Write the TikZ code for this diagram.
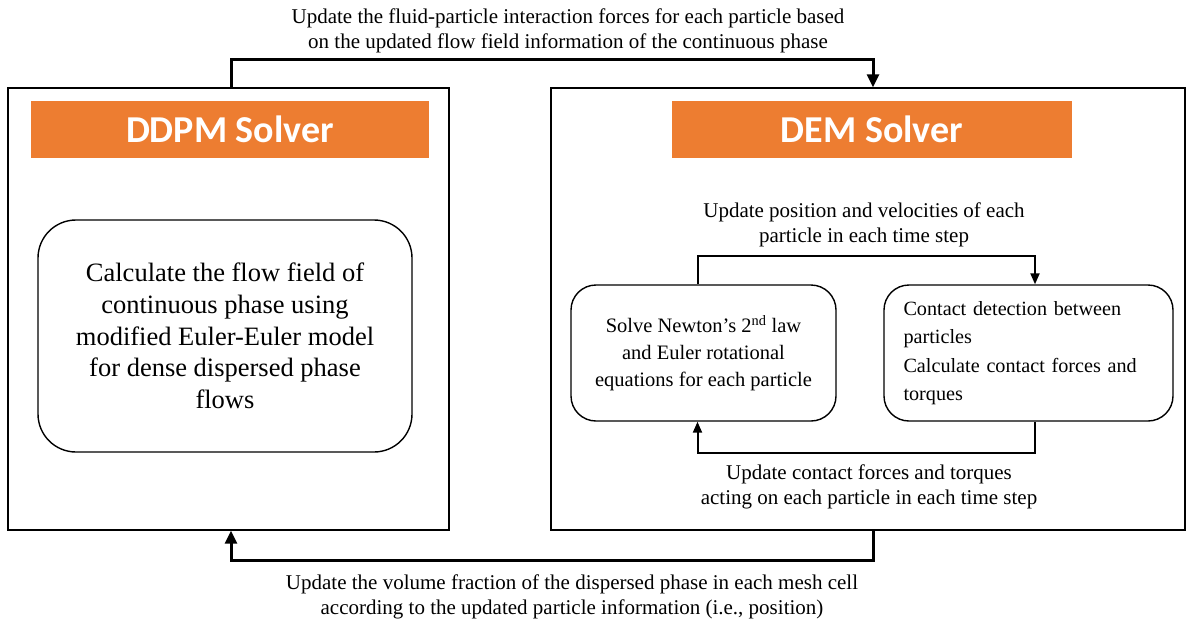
\documentclass[tikz,border=0pt]{standalone}
\usepackage{fontspec}
\setmainfont{Liberation Serif}
\newfontfamily\headfont{Carlito}
\usetikzlibrary{arrows.meta}

\definecolor{solverorange}{HTML}{ED7D31}

\tikzset{
  outerbox/.style={draw, line width=1.4pt, inner sep=0pt},
  header/.style={fill=solverorange, text=white, inner sep=0pt,
    font=\headfont\bfseries\fontsize{38}{40}\selectfont},
  roundbox/.style={draw, line width=1.4pt, align=center},
  label/.style={align=center, font=\fontsize{21}{25}\selectfont},
  bigarrow/.style={line width=3pt, -{Triangle[length=13pt,width=12pt]}},
  smallarrow/.style={line width=2pt, -{Triangle[length=11pt,width=9pt]}}
}

\begin{document}
\begin{tikzpicture}[x=1pt,y=-1pt]
    \useasboundingbox (0,0) rectangle (1187,622);

    % solver frames
    \node[outerbox, minimum width=441pt, minimum height=442pt] (ddpmbox) at (228.5,309) {};
    \node[outerbox, minimum width=634pt, minimum height=442pt] (dembox) at (868,309) {};

    \node[header, minimum width=398pt, minimum height=57pt] (ddpmhead) at (230,129.5) {DDPM Solver};
    \node[header, minimum width=400pt, minimum height=57pt] (demhead) at (872,129.5) {DEM Solver};

    % DDPM side
    \node[roundbox, rounded corners=38pt, minimum width=374pt, minimum height=232pt,
      font=\fontsize{26.5}{31.7}\selectfont] (flow) at (225,336)
      {Calculate the flow field of\\ continuous phase using\\ modified Euler-Euler model\\
       for dense dispersed phase\\ flows};

    % DEM side
    \node[roundbox, rounded corners=25pt, minimum width=265pt, minimum height=136pt,
      font=\fontsize{20.5}{27}\selectfont] (solve) at (703.5,353)
      {Solve Newton’s 2\textsuperscript{nd} law\\ and Euler rotational\\ equations for each particle};
    \node[roundbox, rounded corners=25pt, minimum width=289pt, minimum height=136pt,
      text width=250pt, align=left, font=\fontsize{20.2}{28.3}\selectfont] (contact) at (1028.5,353)
      {Contact detection between\\ particles\\ Calculate contact forces and\\ torques};

    \draw[smallarrow] ([xshift=-6pt]solve.north) -- ++(0,-28) -| ([xshift=6.5pt]contact.north);
    \draw[smallarrow] ([xshift=6.5pt]contact.south) -- ++(0,31) -| ([xshift=-6pt]solve.south);

    \node[label] (posvel) at (864,224.5)
      {Update position and velocities of each\\ particle in each time step};
    \node[label] (contactupd) at (869,486.5)
      {Update contact forces and torques\\ acting on each particle in each time step};

    % coupling between the solvers
    \draw[bigarrow] ([xshift=2.5pt]ddpmbox.north) -- ++(0,-28) -| ([xshift=5pt]dembox.north);
    \draw[bigarrow] ([xshift=5pt]dembox.south) -- ++(0,30) -| ([xshift=2.5pt]ddpmbox.south);

    \node[label] (forceupd) at (568,31)
      {Update the fluid-particle interaction forces for each particle based\\
       on the updated flow field information of the continuous phase};
    \node[label] (volupd) at (572,597)
      {Update the volume fraction of the dispersed phase in each mesh cell\\
       according to the updated particle information (i.e., position)};
\end{tikzpicture}
\end{document}
